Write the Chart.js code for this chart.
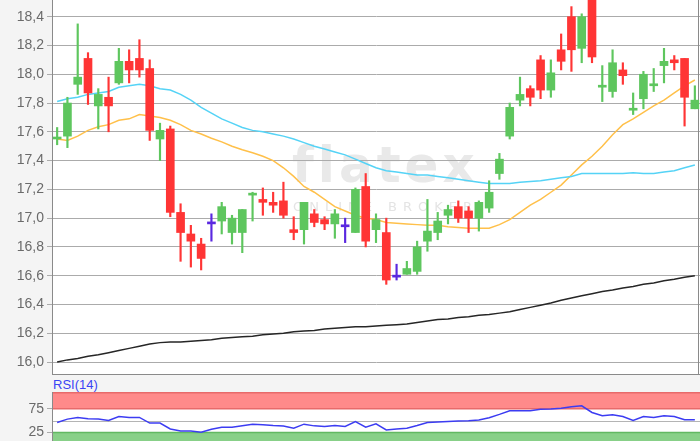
<!DOCTYPE html>
<html>
<head>
<meta charset="utf-8">
<script src="https://cdn.jsdelivr.net/npm/chart.js@4.4.0/dist/chart.umd.min.js"></script>
<style>
  html, body { margin: 0; padding: 0; background: #f4f4f4; }
  body { width: 700px; height: 441px; position: relative; overflow: hidden; }
  #priceChart { position: absolute; left: 0; top: 0; }
  #rsiChart { position: absolute; left: 0; top: 392px; }
  #rsiLabel { position: absolute; left: 53px; top: 378px; font: 13px "Liberation Sans", Arial, sans-serif; line-height: 13px; color: #3a44f5; }
</style>
</head>
<body>
<canvas id="priceChart" width="700" height="375"></canvas>
<div id="rsiLabel">RSI(14)</div>
<canvas id="rsiChart" width="700" height="49"></canvas>
<script>
// daily candles (open / high / low / close)
var opens  = [17.55, 17.57, 17.93, 18.11, 17.78, 17.84, 17.94, 18.09, 18.11, 18.04,
              17.55, 17.62, 17.04, 16.89, 16.82, 16.96, 16.98, 16.90, 16.90, 17.16,
              17.13, 17.11, 17.12, 16.92, 16.92, 17.03, 16.99, 16.96, 16.94, 16.90,
              17.22, 16.92, 16.90, 16.59, 16.61, 16.63, 16.84, 16.90, 17.02, 17.08,
              17.05, 17.00, 17.07, 17.31, 17.57, 17.82, 17.90, 18.10, 17.89, 18.17,
              18.40, 18.18, 18.58, 17.91, 17.88, 18.03, 17.75, 17.83, 17.92, 18.06,
              18.10, 18.11, 17.76];
var highs  = [17.63, 17.84, 18.35, 18.15, 17.90, 17.98, 18.18, 18.17, 18.24, 18.10,
              17.66, 17.64, 17.10, 16.95, 16.86, 17.03, 17.11, 17.02, 17.06, 17.18,
              17.21, 17.18, 17.25, 17.01, 17.11, 17.06, 17.01, 17.06, 17.00, 17.21,
              17.31, 17.03, 17.00, 16.68, 16.70, 16.84, 17.13, 17.04, 17.09, 17.12,
              17.08, 17.12, 17.26, 17.45, 17.80, 17.98, 17.92, 18.13, 18.10, 18.28,
              18.47, 18.42, 18.62, 18.06, 18.17, 18.08, 17.87, 18.02, 18.04, 18.18,
              18.13, 18.11, 17.92];
var lows   = [17.51, 17.49, 17.86, 17.79, 17.62, 17.60, 17.93, 17.94, 17.98, 17.54,
              17.40, 17.01, 16.70, 16.66, 16.64, 16.84, 16.89, 16.82, 16.76, 16.98,
              17.02, 17.04, 17.00, 16.85, 16.82, 16.94, 16.92, 16.86, 16.83, 16.90,
              16.80, 16.83, 16.54, 16.57, 16.61, 16.61, 16.77, 16.85, 16.96, 16.97,
              16.90, 16.91, 17.04, 17.27, 17.55, 17.78, 17.78, 17.83, 17.84, 18.03,
              18.02, 18.08, 18.08, 17.81, 17.84, 17.93, 17.72, 17.76, 17.88, 17.94,
              18.03, 17.64, 17.76];
var closes = [17.56, 17.80, 17.98, 17.87, 17.86, 17.78, 18.09, 18.03, 18.03, 17.61,
              17.61, 17.04, 16.90, 16.84, 16.72, 16.96, 17.08, 17.00, 17.06, 17.17,
              17.11, 17.09, 17.02, 16.90, 17.11, 16.97, 16.96, 17.03, 16.94, 17.20,
              16.84, 16.99, 16.57, 16.59, 16.65, 16.80, 16.91, 16.98, 17.06, 17.00,
              17.00, 17.11, 17.18, 17.41, 17.77, 17.86, 17.84, 17.89, 18.01, 18.09,
              18.17, 18.40, 18.12, 17.92, 18.08, 17.99, 17.76, 18.00, 17.93, 18.09,
              18.08, 17.84, 17.82];

// moving averages
var maShort = [17.55, 17.54, 17.57, 17.61, 17.635, 17.65, 17.68, 17.69, 17.72, 17.71,
               17.70, 17.68, 17.65, 17.61, 17.585, 17.555, 17.53, 17.50, 17.475, 17.455,
               17.43, 17.40, 17.35, 17.29, 17.22, 17.18, 17.13, 17.08, 17.05, 17.02,
               17.00, 16.99, 16.97, 16.965, 16.96, 16.955, 16.95, 16.95, 16.94, 16.935,
               16.93, 16.93, 16.93, 16.955, 16.99, 17.04, 17.09, 17.13, 17.18, 17.23,
               17.30, 17.37, 17.43, 17.50, 17.58, 17.65, 17.69, 17.735, 17.78, 17.82,
               17.87, 17.92, 17.96];
var maMid   = [17.81, 17.83, 17.84, 17.86, 17.87, 17.88, 17.91, 17.92, 17.93, 17.92,
               17.90, 17.89, 17.86, 17.82, 17.77, 17.73, 17.69, 17.66, 17.63, 17.61,
               17.60, 17.585, 17.57, 17.55, 17.525, 17.50, 17.48, 17.46, 17.44, 17.41,
               17.38, 17.35, 17.33, 17.32, 17.31, 17.30, 17.30, 17.29, 17.28, 17.27,
               17.26, 17.25, 17.24, 17.24, 17.24, 17.25, 17.255, 17.26, 17.27, 17.28,
               17.29, 17.31, 17.31, 17.31, 17.31, 17.31, 17.315, 17.31, 17.31, 17.32,
               17.33, 17.35, 17.37];
var maLong  = [16.00, 16.015, 16.025, 16.04, 16.05, 16.065, 16.08, 16.095, 16.11, 16.125,
               16.135, 16.14, 16.14, 16.145, 16.15, 16.155, 16.165, 16.17, 16.175, 16.18,
               16.19, 16.195, 16.20, 16.21, 16.215, 16.22, 16.23, 16.235, 16.24, 16.245,
               16.245, 16.25, 16.255, 16.26, 16.265, 16.275, 16.285, 16.295, 16.30, 16.31,
               16.315, 16.325, 16.33, 16.34, 16.35, 16.365, 16.38, 16.395, 16.41, 16.43,
               16.445, 16.46, 16.475, 16.49, 16.50, 16.515, 16.525, 16.54, 16.55, 16.565,
               16.575, 16.59, 16.60];

var rsi14 = [46, 53, 56.5, 53.7, 53, 50, 58.6, 56.5, 56.5, 44.6,
             44.6, 32.4, 28.2, 28.2, 25.4, 31.8, 36, 36, 39, 42.4,
             41, 39.5, 38.5, 34, 42.4, 38.8, 37.7, 39.7, 37.7, 48,
             36, 43, 30.3, 32, 34, 39.5, 45.9, 47, 48, 49,
             49.5, 51, 56, 63, 70.7, 70.7, 70.7, 73.5, 74.4, 76,
             79, 81, 67, 60, 62, 58.6, 50, 58.6, 56.5, 60,
             58.6, 51.6, 51.6];

var days = opens.map(function (o, i) { return String(i + 1); });

var priceTicks = [16.0, 16.2, 16.4, 16.6, 16.8, 17.0, 17.2, 17.4, 17.6, 17.8, 18.0, 18.2, 18.4];
var priceTickLabels = ['16,0', '16,2', '16,4', '16,6', '16,8', '17,0', '17,2', '17,4', '17,6', '17,8', '18,0', '18,2', '18,4'];
var rsiTicks = [25, 75];
var rsiTickLabels = ['25', '75'];
var rsiUpper = 75, rsiLower = 25, rsiMid = 50;

var UP = '#5ec65e', DOWN = '#ff3535', FLAT = '#5a28e0';
var candleColors = opens.map(function (o, i) {
    return closes[i] > o ? UP : (closes[i] < o ? DOWN : FLAT);
});

var tickFont = { family: '"Liberation Sans", Arial, sans-serif', size: 14 };

// background, white plot area and the faint watermark
var priceBack = {
    id: 'priceBack',
    beforeDraw: function (chart) {
        var ctx = chart.ctx, a = chart.chartArea;
        ctx.save();
        ctx.fillStyle = '#f4f4f4';
        ctx.fillRect(0, 0, chart.width, chart.height);
        ctx.fillStyle = '#ffffff';
        ctx.fillRect(a.left, a.top, a.right - a.left, a.bottom - a.top);
        ctx.fillStyle = '#e9e9e9';
        ctx.textBaseline = 'alphabetic';
        ctx.font = 'bold 50px "DejaVu Sans"';
        ctx.letterSpacing = '4px';
        ctx.fillText('flatex', 292, 182);
        ctx.fillStyle = '#e4e4e4';
        ctx.font = '13px "DejaVu Sans"';
        ctx.letterSpacing = '6px';
        ctx.fillText('ONLINE BROKER', 293, 211);
        ctx.restore();
    },
    beforeDatasetsDraw: function (chart) {
        var ctx = chart.ctx, a = chart.chartArea;
        ctx.save();
        ctx.strokeStyle = '#8a8a8a';
        ctx.lineWidth = 1;
        ctx.beginPath();
        ctx.moveTo(a.left, a.bottom - 0.5);
        ctx.lineTo(a.right, a.bottom - 0.5);
        ctx.moveTo(698.5, a.top);
        ctx.lineTo(698.5, a.bottom);
        ctx.stroke();
        ctx.restore();
    }
};

new Chart('priceChart', {
    type: 'bar',
    data: {
        labels: days,
        datasets: [{
            data: opens.map(function (o, i) { return [o, closes[i]]; }),
            backgroundColor: candleColors,
            barThickness: 8,
            minBarLength: 2,
            grouped: false,
            order: 0
        }, {
            data: lows.map(function (l, i) { return [l, highs[i]]; }),
            backgroundColor: candleColors,
            barThickness: 1.5,
            grouped: false,
            order: 1
        }, {
            type: 'line',
            data: maMid,
            borderColor: '#55d3f6',
            borderWidth: 1.5,
            pointRadius: 0,
            order: 2
        }, {
            type: 'line',
            data: maShort,
            borderColor: '#ffc04a',
            borderWidth: 1.5,
            pointRadius: 0,
            order: 2
        }, {
            type: 'line',
            data: maLong,
            borderColor: '#262626',
            borderWidth: 1.5,
            pointRadius: 0,
            order: 2
        }]
    },
    options: {
        responsive: false,
        animation: false,
        layout: { padding: 0 },
        plugins: { legend: { display: false }, tooltip: { enabled: false } },
        scales: {
            x: { display: false, offset: true },
            y: {
                min: 15.91,
                max: 18.516,
                afterBuildTicks: function (s) { s.ticks = priceTicks.map(function (v) { return { value: v }; }); },
                afterFit: function (s) { s.width = 52; s.paddingTop = 0; s.paddingBottom = 0; },
                ticks: {
                    callback: function (v, i) { return priceTickLabels[i]; },
                    color: '#6a6a6a',
                    font: tickFont,
                    padding: 3
                },
                grid: { color: '#ababab', lineWidth: 1, tickLength: 5 },
                border: { color: '#8a8a8a', width: 1 }
            }
        }
    },
    plugins: [priceBack]
});

// RSI panel bands
var rsiBack = {
    id: 'rsiBack',
    beforeDraw: function (chart) {
        var ctx = chart.ctx, a = chart.chartArea, y = chart.scales.y;
        var yUp = y.getPixelForValue(rsiUpper), yLo = y.getPixelForValue(rsiLower), yMid = y.getPixelForValue(rsiMid);
        var w = a.right - a.left;
        ctx.save();
        ctx.fillStyle = '#f4f4f4';
        ctx.fillRect(0, 0, chart.width, chart.height);
        ctx.fillStyle = '#ffffff';
        ctx.fillRect(a.left, a.top, w, a.bottom - a.top);
        ctx.fillStyle = '#ff8a8a';
        ctx.fillRect(a.left, a.top, w, yUp - a.top);
        ctx.fillStyle = '#88d088';
        ctx.fillRect(a.left, yLo, w, a.bottom - yLo);
        ctx.lineWidth = 1.5;
        ctx.strokeStyle = '#e86a6a';
        ctx.beginPath();
        ctx.moveTo(a.left, a.top + 0.75); ctx.lineTo(a.right, a.top + 0.75);
        ctx.moveTo(a.left, yUp); ctx.lineTo(a.right, yUp);
        ctx.stroke();
        ctx.strokeStyle = '#62b862';
        ctx.beginPath();
        ctx.moveTo(a.left, yLo); ctx.lineTo(a.right, yLo);
        ctx.stroke();
        ctx.strokeStyle = '#b4b4b4';
        ctx.lineWidth = 1;
        ctx.beginPath();
        ctx.moveTo(a.left, Math.round(yMid) + 0.5); ctx.lineTo(a.right, Math.round(yMid) + 0.5);
        ctx.stroke();
        ctx.restore();
    }
};

new Chart('rsiChart', {
    type: 'line',
    data: {
        labels: days,
        datasets: [{
            data: rsi14,
            borderColor: '#3c3cf2',
            borderWidth: 1.5,
            pointRadius: 0
        }]
    },
    options: {
        responsive: false,
        animation: false,
        layout: { padding: 0 },
        plugins: { legend: { display: false }, tooltip: { enabled: false } },
        scales: {
            x: { type: 'category', display: false, offset: true },
            y: {
                min: 7,
                max: 110,
                afterBuildTicks: function (s) { s.ticks = rsiTicks.map(function (v) { return { value: v }; }); },
                afterFit: function (s) { s.width = 52; s.paddingTop = 0; s.paddingBottom = 0; },
                ticks: {
                    callback: function (v, i) { return rsiTickLabels[i]; },
                    color: '#6a6a6a',
                    font: tickFont,
                    padding: 3
                },
                grid: { drawOnChartArea: false, color: '#ababab', tickLength: 5 },
                border: { color: '#8a8a8a', width: 1 }
            }
        }
    },
    plugins: [rsiBack]
});
</script>
</body>
</html>
